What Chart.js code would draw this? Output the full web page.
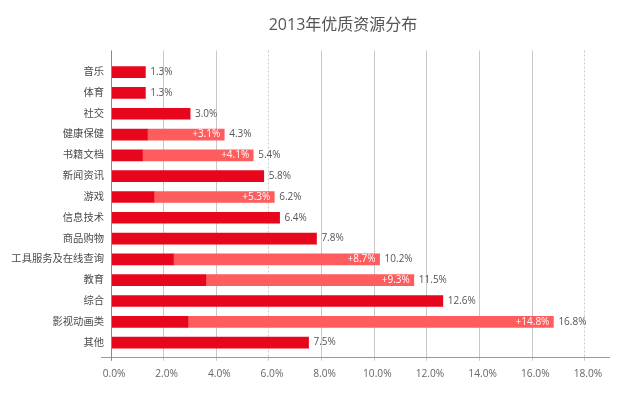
<!DOCTYPE html>
<html><head><meta charset="utf-8">
<script src="https://cdn.jsdelivr.net/npm/chart.js@4.4.0/dist/chart.umd.min.js"></script>
<style>html,body{margin:0;padding:0;background:#fff}#wrap{width:619px;height:395px}</style>
</head><body><div id="wrap"><canvas id="c" width="619" height="395"></canvas></div>
<script>
const titleText = '2013年优质资源分布';
const categories = ['音乐','体育','社交','健康保健','书籍文档','新闻资讯','游戏','信息技术','商品购物','工具服务及在线查询','教育','综合','影视动画类','其他'];
const totals = [1.3, 1.3, 3.0, 4.3, 5.4, 5.8, 6.2, 6.4, 7.8, 10.2, 11.5, 12.6, 16.8, 7.5];
const darkPart = [1.3, 1.3, 3.0, 1.38, 1.19, 5.8, 1.63, 6.4, 7.8, 2.37, 3.6, 12.6, 2.92, 7.5];
const increaseLabels = [null, null, null, 3.1, 4.1, null, 5.3, null, null, 8.7, 9.3, null, 14.8, null];
const xTicks = [0, 2, 4, 6, 8, 10, 12, 14, 16, 18];
const dashedTicks = [6, 18];

const FONT = '"Open Sans", "Noto Sans CJK SC", sans-serif';
const lightPart = totals.map((t, i) => +(t - darkPart[i]).toFixed(2));

const titlePlugin = {
  id: 'chartTitle',
  afterDraw(chart) {
    const ctx = chart.ctx;
    ctx.save();
    ctx.font = '16px ' + FONT;
    ctx.fillStyle = '#555';
    ctx.textAlign = 'center';
    ctx.textBaseline = 'middle';
    ctx.fillText(titleText, 343, 25);
    ctx.restore();
  }
};

const labelPlugin = {
  id: 'barLabels',
  afterDatasetsDraw(chart) {
    const ctx = chart.ctx, xs = chart.scales.x, ys = chart.scales.y;
    ctx.save();
    ctx.textBaseline = 'middle';
    ctx.font = '10px ' + FONT;
    categories.forEach((c, i) => {
      const y = ys.getPixelForValue(i);
      const xe = xs.getPixelForValue(totals[i]);
      ctx.fillStyle = '#555';
      ctx.textAlign = 'left';
      ctx.fillText(totals[i].toFixed(1) + '%', xe + 5, y);
      if (increaseLabels[i] != null) {
        ctx.fillStyle = '#fff';
        ctx.textAlign = 'right';
        ctx.fillText('+' + increaseLabels[i].toFixed(1) + '%', xe - 4, y);
      }
    });
    ctx.restore();
  }
};

const axesPlugin = {
  id: 'axesLines',
  afterDatasetsDraw(chart) {
    const ctx = chart.ctx;
    const {left, right, top, bottom} = chart.chartArea;
    ctx.save();
    ctx.lineWidth = 1;
    ctx.strokeStyle = '#999';
    const by = Math.round(bottom) + 0.5;
    ctx.beginPath(); ctx.moveTo(left - 10, by); ctx.lineTo(right, by); ctx.stroke();
    const lx = Math.round(left) + 0.5;
    ctx.strokeStyle = '#8a8a8a';
    ctx.beginPath(); ctx.moveTo(lx, top); ctx.lineTo(lx, bottom + 4); ctx.stroke();
    ctx.restore();
  }
};

new Chart(document.getElementById('c'), {
  type: 'bar',
  data: {
    datasets: [
      {label: 'base', data: darkPart.map((v, i) => ({x: v, y: i})), backgroundColor: '#E8061C', barThickness: 11, borderWidth: 0},
      {label: 'increase', data: lightPart.map((v, i) => ({x: v, y: i})), backgroundColor: '#FF5C5E', barThickness: 11, borderWidth: 0}
    ]
  },
  options: {
    indexAxis: 'y',
    responsive: false,
    animation: false,
    layout: {padding: {left: 0, right: 9, top: 50.5, bottom: 7}},
    plugins: {
      legend: {display: false},
      tooltip: {enabled: false},
      title: {display: false}
    },
    scales: {
      x: {
        type: 'linear', min: 0, max: 18.95, stacked: true, offset: false,
        afterBuildTicks: s => { s.ticks = xTicks.map(v => ({value: v})); },
        ticks: {callback: v => Number(v).toFixed(1) + '%', color: '#666', font: {family: FONT, size: 10.2}, padding: 7.5, labelOffset: 3, maxRotation: 0, autoSkip: false},
        grid: {color: '#c8c8c8', tickLength: 4, drawTicks: true, tickColor: '#c8c8c8', offset: false},
        border: {display: false, dash: ctx => (ctx.tick && dashedTicks.includes(ctx.tick.value)) ? [2, 2] : []}
      },
      y: {
        type: 'linear', reverse: true, min: -1.04, max: 13.68, stacked: true, offset: false,
        afterBuildTicks: s => { s.ticks = categories.map((c, i) => ({value: i})); },
        afterFit: s => { s.width = 111; },
        ticks: {callback: v => categories[v], color: '#4a4a4a', font: {family: FONT, size: 10.3}, padding: 7, autoSkip: false},
        grid: {display: false, drawTicks: false, offset: false},
        border: {display: false}
      }
    }
  },
  plugins: [labelPlugin, axesPlugin, titlePlugin]
});
</script>
</body></html>
